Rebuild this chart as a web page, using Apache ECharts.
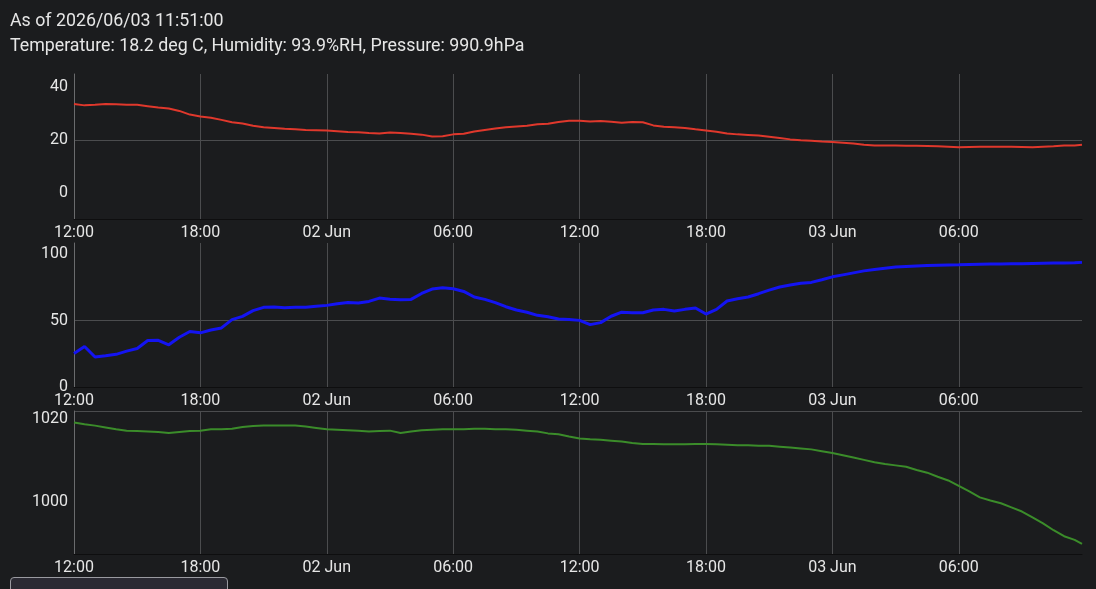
<!DOCTYPE html>
<html>
<head>
<meta charset="utf-8">
<script src="https://cdn.jsdelivr.net/npm/echarts@6/dist/echarts.min.js"></script>
<style>
  html, body { margin: 0; padding: 0; background: #1b1c1e; }
  #head { position: absolute; left: 10px; top: 7px; color: #e6e6e6; font: 17.8px Roboto, sans-serif; line-height: 25px; }
  #chart { position: absolute; left: 0; top: 0; width: 1096px; height: 589px; }
  #btn { position: absolute; left: 10px; top: 577px; width: 216px; height: 20px; background: #2b2a33; border: 1px solid #9a9aa0; border-radius: 4px; }
</style>
</head>
<body>
<div id="chart"></div>
<div id="head">As of 2026/06/03 11:51:00<br>Temperature: 18.2 deg C, Humidity: 93.9%RH, Pressure: 990.9hPa</div>
<div id="btn"></div>
<script>
// readings every 30 min from 2026/06/01 12:00, last one at 2026/06/03 11:51
var startTime = '2026-06-01T12:00:00';
var endTime = '2026-06-03T11:51:00';

var temperature = [
  33.6, 33.1, 33.3, 33.6, 33.5, 33.3, 33.3, 32.8, 32.3, 31.9,
  31.0, 29.6, 28.9, 28.4, 27.6, 26.7, 26.2, 25.4, 24.8, 24.5,
  24.2, 24.0, 23.8, 23.7, 23.6, 23.3, 23.0, 22.9, 22.6, 22.4,
  22.8, 22.6, 22.3, 22.0, 21.3, 21.4, 22.1, 22.3, 23.2, 23.8,
  24.3, 24.8, 25.1, 25.4, 25.9, 26.1, 26.8, 27.3, 27.3, 27.0,
  27.2, 26.9, 26.5, 26.8, 26.7, 25.5, 25.0, 24.8, 24.5, 24.0,
  23.6, 23.1, 22.4, 22.1, 21.9, 21.7, 21.2, 20.7, 20.2, 19.9,
  19.7, 19.4, 19.2, 18.9, 18.6, 18.2, 17.9, 17.9, 17.9, 17.8,
  17.8, 17.7, 17.6, 17.4, 17.2, 17.3, 17.4, 17.4, 17.4, 17.4,
  17.3, 17.2, 17.4, 17.6, 17.9, 17.9,
  18.2
];

var humidity = [
  25.2, 30.5, 22.6, 23.5, 24.6, 27.0, 29.0, 35.0, 35.2, 31.8,
  37.5, 41.8, 40.8, 43.0, 44.5, 50.8, 53.2, 57.5, 60.0, 60.2,
  59.8, 60.0, 60.1, 60.8, 61.5, 62.8, 63.6, 63.3, 64.5, 67.0,
  66.2, 65.8, 66.0, 70.5, 73.8, 74.8, 74.0, 72.0, 67.8, 66.0,
  63.6, 60.5, 58.0, 56.3, 54.0, 52.9, 51.2, 50.8, 50.2, 47.0,
  48.5, 53.3, 56.4, 56.0, 55.9, 58.0, 58.5, 57.2, 58.5, 59.5,
  55.0, 58.5, 64.8, 66.5, 67.8, 70.3, 73.0, 75.3, 76.8, 78.2,
  78.8, 80.8, 83.0, 84.5, 86.0, 87.5, 88.6, 89.5, 90.4, 90.8,
  91.2, 91.6, 91.8, 92.0, 92.1, 92.3, 92.5, 92.6, 92.7, 92.8,
  92.9, 93.1, 93.3, 93.4, 93.5, 93.6,
  93.9
];

var pressure = [
  1017.5, 1017.1, 1016.8, 1016.4, 1016.0, 1015.7, 1015.6, 1015.5, 1015.4, 1015.2,
  1015.4, 1015.6, 1015.7, 1016.0, 1016.0, 1016.1, 1016.5, 1016.7, 1016.8, 1016.8,
  1016.8, 1016.8, 1016.6, 1016.3, 1016.0, 1015.9, 1015.8, 1015.7, 1015.5, 1015.6,
  1015.7, 1015.2, 1015.5, 1015.8, 1015.9, 1016.0, 1016.0, 1016.0, 1016.1, 1016.1,
  1016.0, 1016.0, 1015.9, 1015.7, 1015.5, 1015.1, 1014.9, 1014.4, 1014.0, 1013.8,
  1013.7, 1013.5, 1013.3, 1013.0, 1012.8, 1012.8, 1012.7, 1012.7, 1012.7, 1012.8,
  1012.8, 1012.7, 1012.6, 1012.5, 1012.5, 1012.4, 1012.4, 1012.2, 1012.0, 1011.8,
  1011.6, 1011.2, 1010.8, 1010.3, 1009.8, 1009.3, 1008.8, 1008.4, 1008.1, 1007.8,
  1007.1, 1006.5, 1005.6, 1004.8, 1003.6, 1002.4, 1001.1, 1000.4, 999.8, 998.9,
  998.0, 996.7, 995.4, 993.9, 992.6, 991.8,
  990.9
];

var tempTicks = [0, 20, 40];
var humTicks = [0, 50, 100];
var presTicks = [1000, 1020];

// x positions are hours since the first reading
var t0 = new Date(startTime).getTime();
var hEnd = (new Date(endTime).getTime() - t0) / 3600000;
var hours = [];
for (var i = 0; i < temperature.length - 1; i++) hours.push(i * 0.5);
hours.push(hEnd);

function pairs(vals) {
  return vals.map(function (v, i) { return [hours[i], v]; });
}

var months = ['Jan','Feb','Mar','Apr','May','Jun','Jul','Aug','Sep','Oct','Nov','Dec'];
function pad(n) { return (n < 10 ? '0' : '') + n; }
function timeLabel(h) {
  var d = new Date(t0 + h * 3600000);
  if (d.getHours() === 0 && d.getMinutes() === 0) return pad(d.getDate()) + ' ' + months[d.getMonth()];
  return pad(d.getHours()) + ':' + pad(d.getMinutes());
}

var gridColor = '#4b4c4e';
var textColor = '#e6e6e6';
var font = 'Roboto, sans-serif';

function xAxis(idx) {
  return {
    type: 'value', gridIndex: idx, min: 0, max: hEnd, interval: 6,
    axisLine: { show: true, onZero: false, lineStyle: { color: '#0e0e0f', width: 1 } },
    axisTick: { show: false },
    axisLabel: { color: textColor, fontSize: 16, fontFamily: font, margin: 6,
                 formatter: timeLabel, showMaxLabel: false, hideOverlap: false },
    splitLine: { show: true, showMaxLine: false, lineStyle: { color: gridColor, width: 1 } }
  };
}

function yAxis(idx, min, max, ticks, showTop) {
  return {
    type: 'value', gridIndex: idx, min: min, max: max,
    axisLine: { show: true, lineStyle: { color: '#6a6b6d', width: 1 } },
    axisTick: { show: false, customValues: ticks },
    axisLabel: { color: textColor, fontSize: 16, fontFamily: font, margin: 6, customValues: ticks,
                 formatter: function (v) { return String(v); },
                 verticalAlignMaxLabel: showTop ? 'top' : null },
    splitLine: { show: true, showMinLine: false, showMaxLine: !!showTop, lineStyle: { color: gridColor, width: 1 } }
  };
}

var chart = echarts.init(document.getElementById('chart'));
chart.setOption({
  backgroundColor: '#1b1c1e',
  animation: false,
  grid: [
    { left: 74, right: 14, top: 74, height: 145 },
    { left: 74, right: 14, top: 243, height: 144 },
    { left: 74, right: 14, top: 411, height: 143 }
  ],
  xAxis: [xAxis(0), xAxis(1), xAxis(2)],
  yAxis: [
    yAxis(0, -10, 45, tempTicks, false),
    yAxis(1, 0, 108.5, humTicks, false),
    yAxis(2, 988.7, 1020, presTicks, true)
  ],
  series: [
    { name: 'Temperature', type: 'line', xAxisIndex: 0, yAxisIndex: 0, data: pairs(temperature),
      showSymbol: false, lineStyle: { color: '#e0382c', width: 2 } },
    { name: 'Humidity', type: 'line', xAxisIndex: 1, yAxisIndex: 1, data: pairs(humidity),
      showSymbol: false, lineStyle: { color: '#1414f2', width: 3 } },
    { name: 'Pressure', type: 'line', xAxisIndex: 2, yAxisIndex: 2, data: pairs(pressure),
      showSymbol: false, lineStyle: { color: '#3b8c2a', width: 2 } }
  ]
});
</script>
</body>
</html>
